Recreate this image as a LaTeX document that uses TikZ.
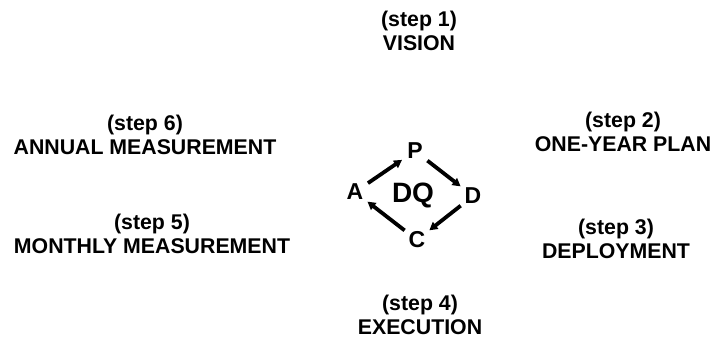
\documentclass[tikz,border=0pt]{standalone}
\usepackage{fontspec}
\setmainfont{Liberation Sans}
\usetikzlibrary{arrows.meta}
\begin{document}
\begin{tikzpicture}[x=1pt,y=-1pt,
  steplabel/.style={font=\bfseries\fontsize{21.3}{24.5}\selectfont, align=center, inner sep=0pt},
  letter/.style={circle, minimum size=31pt, inner sep=0pt, font=\bfseries\fontsize{23}{25}\selectfont},
  cyclearrow/.style={line width=3.8pt, -{Triangle[length=8pt,width=8.5pt]}}]
  \useasboundingbox (0,0) rectangle (714,356);

  % the six steps around the cycle
  \node[steplabel] (s1) at (419,31)  {(step 1)\\VISION};
  \node[steplabel] (s2) at (623,132) {(step 2)\\ONE-YEAR PLAN};
  \node[steplabel] (s3) at (616,239) {(step 3)\\DEPLOYMENT};
  \node[steplabel] (s4) at (420,315) {(step 4)\\EXECUTION};
  \node[steplabel] (s5) at (152,234) {(step 5)\\MONTHLY MEASUREMENT};
  \node[steplabel] (s6) at (145,135) {(step 6)\\ANNUAL MEASUREMENT};

  % plan-do-check-act cycle
  \node[letter] (P) at (415,151) {P};
  \node[letter] (D) at (473,196) {D};
  \node[letter] (C) at (417,240) {C};
  \node[letter] (A) at (355,192) {A};
  \node[font=\bfseries\fontsize{28}{30}\selectfont, inner sep=0pt] (DQ) at (413,195) {DQ};

  \draw[cyclearrow] (A) -- (P);
  \draw[cyclearrow] (P) -- (D);
  \draw[cyclearrow] (D) -- (C);
  \draw[cyclearrow] (C) -- (A);
\end{tikzpicture}
\end{document}
